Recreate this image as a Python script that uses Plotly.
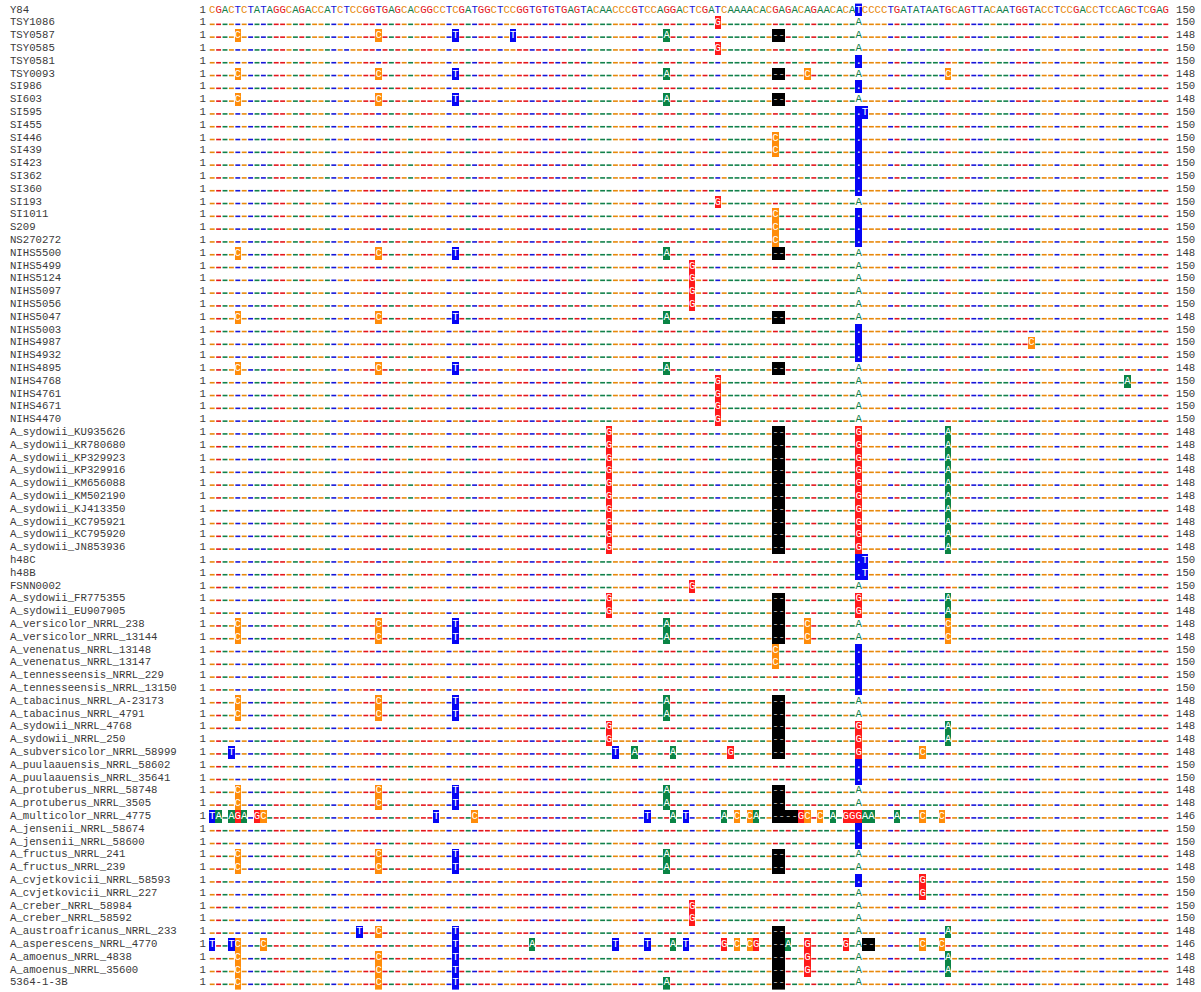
import plotly.graph_objects as go
import numpy as np

REF = "CGACTCTATAGGCAGACCATCTCCGGTGAGCACGGCCTCGATGGCTCCGGTGTGTGAGTACAACCCGTCCAGGACTCGATCAAAACACGAGACAGAACACATCCCCTGATATAATGCAGTTACAATGGTACCTCCGACCTCCAGCTCGAG"
REF_NAME = "Y84"
REF_HIGHLIGHT = [102]

NAMES = [
    "TSY1086", "TSY0587", "TSY0585", "TSY0581", "TSY0093", "SI986", "SI603", "SI595",
    "SI455", "SI446", "SI439", "SI423", "SI362", "SI360", "SI193", "SI1011", "S209",
    "NS270272", "NIHS5500", "NIHS5499", "NIHS5124", "NIHS5097", "NIHS5056", "NIHS5047",
    "NIHS5003", "NIHS4987", "NIHS4932", "NIHS4895", "NIHS4768", "NIHS4761", "NIHS4671",
    "NIHS4470", "A_sydowii_KU935626", "A_sydowii_KR780680", "A_sydowii_KP329923",
    "A_sydowii_KP329916", "A_sydowii_KM656088", "A_sydowii_KM502190", "A_sydowii_KJ413350",
    "A_sydowii_KC795921", "A_sydowii_KC795920", "A_sydowii_JN853936", "h48C", "h48B",
    "FSNN0002", "A_sydowii_FR775355", "A_sydowii_EU907905", "A_versicolor_NRRL_238",
    "A_versicolor_NRRL_13144", "A_venenatus_NRRL_13148", "A_venenatus_NRRL_13147",
    "A_tennesseensis_NRRL_229", "A_tennesseensis_NRRL_13150", "A_tabacinus_NRRL_A-23173",
    "A_tabacinus_NRRL_4791", "A_sydowii_NRRL_4768", "A_sydowii_NRRL_250",
    "A_subversicolor_NRRL_58999", "A_puulaauensis_NRRL_58602", "A_puulaauensis_NRRL_35641",
    "A_protuberus_NRRL_58748", "A_protuberus_NRRL_3505", "A_multicolor_NRRL_4775",
    "A_jensenii_NRRL_58674", "A_jensenii_NRRL_58600", "A_fructus_NRRL_241",
    "A_fructus_NRRL_239", "A_cvjetkovicii_NRRL_58593", "A_cvjetkovicii_NRRL_227",
    "A_creber_NRRL_58984", "A_creber_NRRL_58592", "A_austroafricanus_NRRL_233",
    "A_asperescens_NRRL_4770", "A_amoenus_NRRL_4838", "A_amoenus_NRRL_35600", "5364-1-3B",
]

# differences vs reference: "position:characters" (lowercase = unshaded letter)
DIFFS = [
    "80:G 102:a",
    "5:C 27:C 39:T 48:T 72:A 89:-- 102:a",
    "80:G 102:a",
    "102:.",
    "5:C 27:C 39:T 72:A 89:-- 94:C 102:a 116:C",
    "102:.",
    "5:C 27:C 39:T 72:A 89:-- 102:a",
    "102:.T",
    "102:.",
    "89:C 102:.",
    "89:C 102:.",
    "102:.",
    "102:.",
    "102:.",
    "80:G 102:a",
    "89:C 102:.",
    "89:C 102:.",
    "89:C 102:.",
    "5:C 27:C 39:T 72:A 89:-- 102:a",
    "76:G 102:a",
    "76:G 102:a",
    "76:G 102:a",
    "76:G 102:a",
    "5:C 27:C 39:T 72:A 89:-- 102:a",
    "102:.",
    "102:. 129:C",
    "102:.",
    "5:C 27:C 39:T 72:A 89:-- 102:a",
    "80:G 102:a 144:A",
    "80:G 102:a",
    "80:G 102:a",
    "80:G 102:a",
    "63:G 89:-- 102:G 116:A",
    "63:G 89:-- 102:G 116:A",
    "63:G 89:-- 102:G 116:A",
    "63:G 89:-- 102:G 116:A",
    "63:G 89:-- 102:G 116:A",
    "63:G 89:-- 102:G 116:A",
    "63:G 89:-- 102:G 116:A",
    "63:G 89:-- 102:G 116:A",
    "63:G 89:-- 102:G 116:A",
    "63:G 89:-- 102:G 116:A",
    "102:.T",
    "102:.T",
    "76:G 102:a",
    "63:G 89:-- 102:G 116:A",
    "63:G 89:-- 102:G 116:A",
    "5:C 27:C 39:T 72:A 89:-- 94:C 102:a 116:C",
    "5:C 27:C 39:T 72:A 89:-- 94:C 102:a 116:C",
    "89:C 102:.",
    "89:C 102:.",
    "102:.",
    "102:.",
    "5:C 27:C 39:T 72:A 89:-- 102:a",
    "5:C 27:C 39:T 72:A 89:-- 102:a",
    "63:G 89:-- 102:G 116:A",
    "63:G 89:-- 102:G 116:A",
    "4:T 64:T 67:A 73:A 82:G 89:-- 102:G 112:C",
    "102:.",
    "102:.",
    "5:C 27:C 39:T 72:A 89:-- 102:a",
    "5:C 27:C 39:T 72:A 89:-- 102:a",
    "1:TA 4:AGA 8:GC 36:T 42:C 69:T 73:A 75:T 81:A 83:C 85:CA 89:---- 93:GC 96:C 98:A 100:GGGAA 108:A 112:C 115:C",
    "102:.",
    "102:.",
    "5:C 27:C 39:T 72:A 89:-- 102:a",
    "5:C 27:C 39:T 72:A 89:-- 102:a",
    "102:. 112:G",
    "102:a 112:G",
    "76:G 102:a",
    "76:G 102:a",
    "24:T 27:C 39:T 89:-- 102:a 116:A",
    "1:T 4:T 5:C 9:C 39:T 51:A 64:T 69:T 73:A 75:T 81:G 83:C 85:CG 89:-- 91:A 94:G 100:G 102:a 103:-- 112:C 115:C",
    "5:C 27:C 39:T 89:-- 94:G 102:a 116:A",
    "5:C 27:C 39:T 89:-- 94:G 102:a 116:A",
    "5:C 27:C 39:T 72:A 89:-- 102:a",
]

LENGTHS = [150, 148, 150, 150, 148, 150, 148, 150, 150, 150, 150, 150, 150, 150, 150, 150,
           150, 150, 148, 150, 150, 150, 150, 148, 150, 150, 150, 148, 150, 150, 150, 150,
           148, 148, 148, 148, 148, 148, 148, 148, 148, 148, 150, 150, 150, 148, 148, 148,
           148, 150, 150, 150, 150, 148, 148, 148, 148, 148, 150, 150, 148, 148, 146, 150,
           150, 148, 148, 150, 150, 150, 150, 148, 146, 148, 148, 148]
REF_LENGTH = 150

BASE_TXT = {"A": "#12804a", "C": "#e8890c", "G": "#e4161c", "T": "#1616d8"}
BASE_BOX = {"A": "#0a8445", "C": "#ff8c0a", "G": "#ff1a1a", "T": "#0505f5"}
GAP_BOX = "#000000"
NAME_COLOR = "#3a3a3a"
FONT = "Liberation Mono, Courier New, monospace"
FS = 10.7

N = len(REF)
all_names = [REF_NAME] + NAMES
all_lengths = [REF_LENGTH] + LENGTHS
nrows = len(all_names)

code = {"A": 1, "C": 2, "G": 3, "T": 4, "-": 5}
z = np.full((nrows, N), np.nan)

dot_x, dot_y, dot_c = [], [], []
box_x, box_y, box_t, box_tc = [], [], [], []
plain_x, plain_y, plain_t, plain_c = [], [], [], []

for p in range(1, N + 1):
    b = REF[p - 1]
    if p in REF_HIGHLIGHT:
        z[0, p - 1] = code[b]
        box_x.append(p); box_y.append(1); box_t.append(b); box_tc.append("#ffffff")
    else:
        plain_x.append(p); plain_y.append(1); plain_t.append(b); plain_c.append(BASE_TXT[b])

for r, d in enumerate(DIFFS, start=2):
    diff = {}
    for tok in d.split():
        ps, chars = tok.split(":")
        ps = int(ps)
        for k, ch in enumerate(chars):
            diff[ps + k] = ch
    for p in range(1, N + 1):
        ch = diff.get(p)
        rb = REF[p - 1]
        if ch is None:
            dot_x.append(p); dot_y.append(r); dot_c.append(BASE_TXT[rb])
        elif ch == " ":
            continue
        elif ch == ".":
            z[r - 1, p - 1] = code[rb]
            box_x.append(p); box_y.append(r); box_t.append("."); box_tc.append("#ffffff")
        elif ch == "-":
            z[r - 1, p - 1] = code["-"]
            box_x.append(p); box_y.append(r); box_t.append("-"); box_tc.append("#b0b0b0")
        elif ch.islower():
            u = ch.upper()
            plain_x.append(p); plain_y.append(r); plain_t.append(u); plain_c.append(BASE_TXT[u])
        else:
            z[r - 1, p - 1] = code[ch]
            box_x.append(p); box_y.append(r); box_t.append(ch); box_tc.append("#ffffff")

cols = [BASE_BOX["A"], BASE_BOX["C"], BASE_BOX["G"], BASE_BOX["T"], GAP_BOX]
cs = []
for i, c in enumerate(cols):
    cs.append([i / 5, c]); cs.append([(i + 1) / 5, c])

fig = go.Figure()
fig.add_trace(go.Heatmap(
    z=z, x=list(range(1, N + 1)), y=list(range(1, nrows + 1)),
    zmin=0.5, zmax=5.5, colorscale=cs, showscale=False, hoverinfo="skip",
    xgap=0, ygap=0,
))
fig.add_trace(go.Scatter(
    x=dot_x, y=[v + 0.12 for v in dot_y], mode="markers", hoverinfo="skip",
    marker=dict(symbol="line-ew", size=3.5, line=dict(width=1.6, color=dot_c)),
))
fig.add_trace(go.Scatter(
    x=box_x, y=box_y, mode="text", text=box_t, hoverinfo="skip",
    textfont=dict(family=FONT, size=FS, color=box_tc),
))
fig.add_trace(go.Scatter(
    x=plain_x, y=plain_y, mode="text", text=plain_t, hoverinfo="skip",
    textfont=dict(family=FONT, size=FS, color=plain_c),
))
rows_y = list(range(1, nrows + 1))
fig.add_trace(go.Scatter(
    x=[-30.6] * nrows, y=rows_y, mode="text", text=all_names, textposition="middle right",
    hoverinfo="skip", textfont=dict(family=FONT, size=FS, color=NAME_COLOR),
))
fig.add_trace(go.Scatter(
    x=[-0.5] * nrows, y=rows_y, mode="text", text=["1"] * nrows, textposition="middle center",
    hoverinfo="skip", textfont=dict(family=FONT, size=FS, color=NAME_COLOR),
))
fig.add_trace(go.Scatter(
    x=[151.6] * nrows, y=rows_y, mode="text", text=[str(v) for v in all_lengths],
    textposition="middle right", hoverinfo="skip",
    textfont=dict(family=FONT, size=FS, color=NAME_COLOR),
))

fig.update_layout(
    width=1201, height=992, margin=dict(l=0, r=0, t=0, b=0),
    paper_bgcolor="white", plot_bgcolor="white", showlegend=False,
    xaxis=dict(range=[-32.156, 155.5], visible=False, fixedrange=True),
    yaxis=dict(range=[77.72, 0.21875], visible=False, fixedrange=True),
)
fig.write_html(
    "out.html",
    config={"displayModeBar": False},
    post_script="document.body.style.margin='0';document.body.style.overflow='hidden';",
)
